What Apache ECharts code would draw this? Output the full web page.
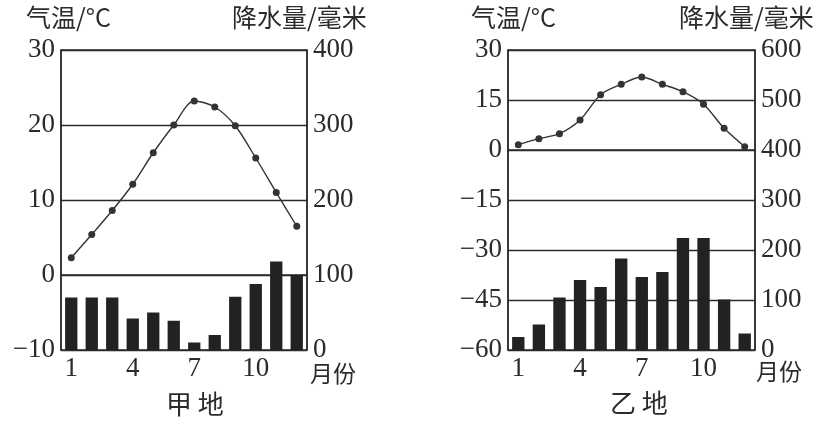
<!DOCTYPE html>
<html>
<head>
<meta charset="utf-8">
<script src="https://cdn.jsdelivr.net/npm/echarts@6/dist/echarts.min.js"></script>
<style>
  html, body { margin: 0; padding: 0; background: #fff; }
  #chart { width: 836px; height: 425px; }
</style>
</head>
<body>
<div id="chart"></div>
<script>
// 月份
var months = ['1','2','3','4','5','6','7','8','9','10','11','12'];

// 甲地
var tempA = [2.3, 5.4, 8.6, 12.1, 16.3, 20, 23.2, 22.4, 19.9, 15.6, 11, 6.5];
var rainA = [70, 70, 70, 42, 50, 39, 10, 20, 71, 88, 118, 100];

// 乙地
var tempB = [1.6, 3.4, 4.9, 9, 16.6, 19.7, 21.9, 19.7, 17.5, 13.7, 6.5, 1];
var rainB = [26, 51, 105, 140, 126, 183, 146, 156, 224, 224, 101, 33];

var ink = '#2b2b2b';
var numFont = 'Liberation Serif';
var cjkFont = 'Noto Sans CJK SC';

function minus(v) {
    return String(v).replace('-', '\u2212');
}

// 坐标轴公共设置
function tempAxis(grid, min, max, step) {
    return {
        type: 'value', gridIndex: grid, min: min, max: max, interval: step,
        position: 'left',
        axisLine: { show: true, lineStyle: { color: ink, width: 1.5 } },
        axisTick: { show: false },
        axisLabel: { color: ink, fontFamily: numFont, fontSize: 27, margin: 6, formatter: minus },
        splitLine: { show: true, lineStyle: { color: ink, width: 1.3 } }
    };
}
function rainAxis(grid, max) {
    return {
        type: 'value', gridIndex: grid, min: 0, max: max, interval: 100,
        position: 'right',
        axisLine: { show: true, lineStyle: { color: ink, width: 1.5 } },
        axisTick: { show: false },
        axisLabel: { color: ink, fontFamily: numFont, fontSize: 27, margin: 6 },
        splitLine: { show: false }
    };
}
function monthAxis(grid) {
    return {
        type: 'category', gridIndex: grid, data: months, boundaryGap: true,
        axisLine: { show: true, lineStyle: { color: ink, width: 1.5 } },
        axisTick: { show: false },
        axisLabel: { color: ink, fontFamily: numFont, fontSize: 27, margin: 5, interval: 2 }
    };
}

function txt(x, y, s, size) {
    return { type: 'text', left: x, top: y,
             style: { text: s, fill: ink, font: size + 'px "' + cjkFont + '"' } };
}

var myChart = echarts.init(document.getElementById('chart'));
myChart.setOption({
    animation: false,
    backgroundColor: '#fff',
    grid: [
        { left: 61, top: 50, width: 246, height: 300, show: true, borderColor: ink, borderWidth: 1.5 },
        { left: 508, top: 50, width: 247, height: 300, show: true, borderColor: ink, borderWidth: 1.5 }
    ],
    xAxis: [monthAxis(0), monthAxis(1)],
    yAxis: [
        tempAxis(0, -10, 30, 10),
        rainAxis(0, 400),
        tempAxis(1, -60, 30, 15),
        rainAxis(1, 600)
    ],
    series: [
        { type: 'bar', xAxisIndex: 0, yAxisIndex: 1, data: rainA, barWidth: '60%', itemStyle: { color: '#222' } },
        { type: 'line', xAxisIndex: 0, yAxisIndex: 0, data: tempA, smooth: 0.3,
          symbol: 'circle', symbolSize: 7, lineStyle: { color: '#333', width: 1.4 }, itemStyle: { color: '#333' } },
        { type: 'bar', xAxisIndex: 1, yAxisIndex: 3, data: rainB, barWidth: '60%', itemStyle: { color: '#222' } },
        { type: 'line', xAxisIndex: 1, yAxisIndex: 2, data: tempB, smooth: 0.3,
          symbol: 'circle', symbolSize: 7, lineStyle: { color: '#333', width: 1.4 }, itemStyle: { color: '#333' } }
    ],
    graphic: [
        txt(26, 5, '气温/°C', 25),
        txt(232, 5, '降水量/毫米', 25),
        txt(310, 362, '月份', 23),
        txt(166, 391, '甲 地', 26),
        txt(471, 5, '气温/°C', 25),
        txt(679, 5, '降水量/毫米', 25),
        txt(756, 360, '月份', 23),
        txt(610, 390, '乙 地', 26)
    ]
});
</script>
</body>
</html>
